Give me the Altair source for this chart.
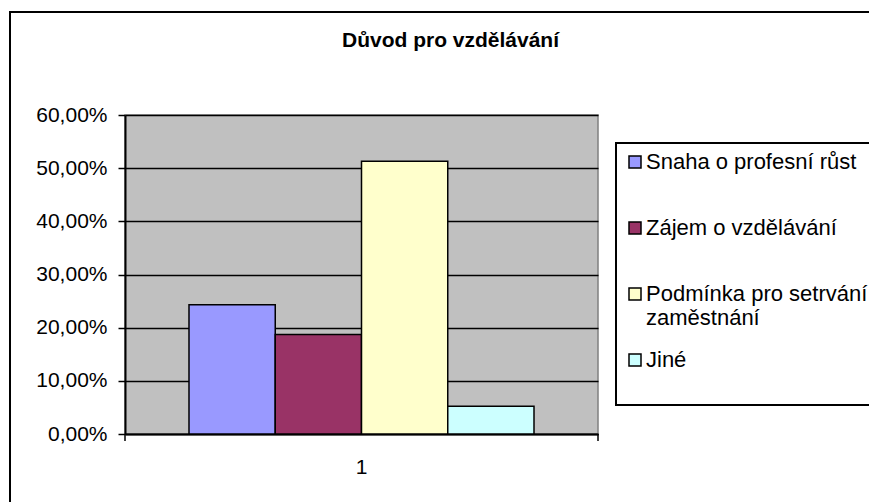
import altair as alt
import pandas as pd

# ---- data ----
group_labels = ["1", "1", "1", "1"]
reasons = [
    "Snaha o profesní růst",
    "Zájem o vzdělávání",
    "Podmínka pro setrvání v zaměstnání",
    "Jiné",
]
shares = [0.243, 0.187, 0.513, 0.052]
bar_colors = ["#9999FF", "#993366", "#FFFFCC", "#CCFFFF"]
y_tick_values = [0.0, 0.1, 0.2, 0.3, 0.4, 0.5, 0.6]
chart_title = "Důvod pro vzdělávání"

df = pd.DataFrame({"group": group_labels, "reason": reasons, "share": shares})

W, H = 473, 319
FONT = "Liberation Sans"

label_expr_legend = (
    "datum.label == 'Podmínka pro setrvání v zaměstnání' "
    "? ['Podmínka pro setrvání v', 'zaměstnání'] : datum.label"
)

bars = alt.Chart(df).mark_bar(stroke="black", strokeWidth=1.5).encode(
    x=alt.X(
        "group:N",
        scale=alt.Scale(paddingInner=0, paddingOuter=0),
        axis=alt.Axis(
            title=None, labelAngle=0, ticks=False, labelFontSize=21,
            labelFont=FONT, labelColor="black", labelPadding=22,
            domainColor="black", domainWidth=2,
        ),
    ),
    xOffset=alt.XOffset(
        "reason:N", sort=reasons,
        scale=alt.Scale(paddingInner=0, paddingOuter=0.742),
    ),
    y=alt.Y(
        "share:Q",
        scale=alt.Scale(domain=[0, 0.6], nice=False),
        axis=alt.Axis(
            title=None, values=y_tick_values,
            labelExpr="replace(format(datum.value, '.2%'), '.', ',')",
            labelFontSize=21, labelFont=FONT, labelColor="black",
            labelPadding=11, tickSize=7, tickColor="black", tickWidth=1.5,
            domainColor="black", domainWidth=2,
            grid=True, gridColor="black", gridWidth=1.5,
        ),
    ),
    color=alt.Color(
        "reason:N",
        scale=alt.Scale(domain=reasons, range=bar_colors),
        legend=alt.Legend(
            title=" ", titleOrient="bottom", titleFontSize=15, titlePadding=11,
            orient="none", legendX=491, legendY=28,
            symbolType="square", symbolSize=144,
            symbolStrokeColor="black", symbolStrokeWidth=1.5,
            labelFont=FONT, labelFontSize=22, labelColor="black",
            labelLimit=500, labelOffset=0,
            labelExpr=label_expr_legend,
            gridAlign="all", rowPadding=20, padding=8,
            strokeColor="black",
        ),
    ),
)

# decorative category tick marks at both ends of the category axis
tick_left = alt.Chart().mark_rule(color="black", strokeWidth=1.5).encode(
    x=alt.value(0), y=alt.value(H), y2=alt.value(H + 7)
)
tick_right = alt.Chart().mark_rule(color="black", strokeWidth=1.5).encode(
    x=alt.value(W), y=alt.value(H), y2=alt.value(H + 7)
)

# outer chart frame (its right and bottom edges run off the page, as in the reference)
frame = alt.Chart().mark_rect(fillOpacity=0, stroke="black", strokeWidth=2).encode(
    x=alt.value(-115), x2=alt.value(900), y=alt.value(-103), y2=alt.value(500)
)

chart = alt.layer(frame, bars, tick_left, tick_right).properties(
    width=W,
    height=H,
    title=alt.TitleParams(
        chart_title, font=FONT, fontSize=21, fontWeight="bold",
        color="black", anchor="middle", frame="group", dx=89,
        baseline="alphabetic", offset=-57,
    ),
    background="white",
    autosize=alt.AutoSizeParams(type="none"),
    padding={"left": 117, "top": 107, "right": 271, "bottom": 68},
).configure_view(
    fill="#C0C0C0", stroke="#808080", strokeWidth=1.5
).configure_legend(
    strokeColor="black", strokeWidth=2
)

chart.save("out.html", embed_options={"renderer": "svg", "actions": False})
